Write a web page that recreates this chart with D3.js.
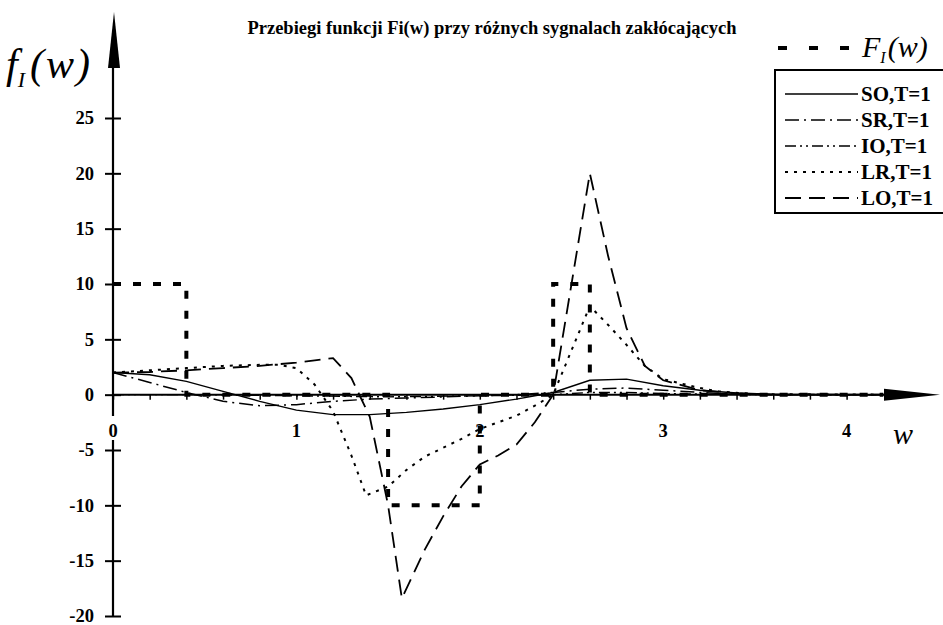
<!DOCTYPE html>
<html><head><meta charset="utf-8">
<script src="https://cdn.jsdelivr.net/npm/d3@7"></script>
<style>body{margin:0;background:#fff}svg{display:block}</style>
</head><body>
<script>
// ---- data ----
const title = "Przebiegi funkcji Fi(w) przy różnych sygnalach zakłócających";
const yTicks = [-20,-15,-10,-5,0,5,10,15,20,25];
const xTickLabels = [0,1,2,3,4];
const seriesNames = ["SO,T=1","SR,T=1","IO,T=1","LR,T=1","LO,T=1"];

const wFI = [0,0.4,0.4,1.5,1.5,2.0,2.0,2.4,2.4,2.6,2.6,4.2];
const vFI = [10,10,0,0,-10,-10,0,0,10,10,0,0];

const wSO = [0,0.2,0.4,0.6,0.8,1.0,1.2,1.4,1.6,1.8,2.0,2.2,2.4,2.6,2.8,3.0,3.2,3.4,3.6,4.0,4.2];
const vSO = [2,1.8,1.2,0.3,-0.6,-1.4,-1.8,-1.8,-1.6,-1.3,-0.9,-0.4,0.2,1.3,1.4,0.8,0.4,0.15,0.05,0,0];

const wSR = [0,0.2,0.4,0.6,0.8,1.0,1.2,1.4,1.6,1.8,2.0,2.2,2.4,2.6,2.8,3.0,3.2,3.4,3.6,4.2];
const vSR = [2,1.1,0.2,-0.6,-1.0,-0.9,-0.6,-0.4,-0.3,-0.2,-0.1,0,0.2,0.5,0.6,0.4,0.2,0.05,0,0];

const wIO = [0,0.5,1.0,1.5,2.0,2.4,2.6,2.8,3.0,3.5,4.2];
const vIO = [0,0,-0.1,-0.2,-0.1,0,0.2,0.2,0.1,0,0];

const wLR = [0,0.2,0.4,0.6,0.8,0.9,1.0,1.1,1.2,1.3,1.38,1.5,1.6,1.7,1.8,1.9,2.0,2.1,2.2,2.3,2.4,2.5,2.6,2.7,2.8,2.9,3.0,3.1,3.2,3.3,3.5,4.2];
const vLR = [2,2.2,2.4,2.6,2.7,2.7,2.4,0.9,-1.5,-5.5,-9.1,-8.3,-6.8,-5.6,-4.8,-4.0,-3.1,-2.5,-1.9,-1.0,0,4,8,6.3,4.5,2.6,1.4,1.0,0.6,0.3,0.05,0];

const wLO = [0,0.2,0.4,0.6,0.8,1.0,1.1,1.2,1.3,1.4,1.5,1.575,1.7,1.8,1.9,2.0,2.1,2.2,2.3,2.4,2.5,2.6,2.7,2.8,2.9,3.0,3.2,3.4,3.6,4.2];
const vLO = [2,2.05,2.2,2.4,2.6,2.9,3.1,3.3,1.5,-2,-10,-18.4,-14,-11,-8.3,-6.3,-5.5,-4.5,-2.5,0,10,20,12.5,6,2.6,1.3,0.4,0.1,0,0];

// ---- drawing ----
const W = 943, H = 625;
const svg = d3.select("body").append("svg").attr("width", W).attr("height", H);
const x = d3.scaleLinear().domain([0, 4.5]).range([113, 113 + 4.5 * 183.4]);
const y = d3.scaleLinear().domain([-20, 25]).range([616, 118]);
const serif = "'Liberation Serif','Times New Roman',serif";

// title
svg.append("text").attr("x", 492).attr("y", 34).attr("text-anchor", "middle")
  .attr("font-family", serif).attr("font-weight", "bold").attr("font-size", 18.5)
  .text(title);

// y axis
const yAxis = d3.axisLeft(y).tickValues(yTicks).tickSize(8).tickPadding(11)
  .tickFormat(d => String(d));
const gy = svg.append("g").attr("transform", `translate(${x(0)},0)`).call(yAxis);
gy.select(".domain").remove();
gy.selectAll(".tick line").attr("x1", -8).attr("x2", 8).attr("stroke", "#000").attr("stroke-width", 2);
gy.selectAll(".tick text").attr("font-family", serif).attr("font-weight", "bold").attr("font-size", 18.5).attr("fill", "#000");
svg.append("line").attr("x1", x(0)).attr("x2", x(0)).attr("y1", y(-20)).attr("y2", 40)
  .attr("stroke", "#000").attr("stroke-width", 2.2);
svg.append("path").attr("d", `M${x(0)+1},12 L${x(0)-5},68 L${x(0)+7},68 Z`).attr("fill", "#000");

// x axis
const xAxis = d3.axisBottom(x).tickValues(d3.range(0, 21).map(i => i * 0.2)).tickSize(5)
  .tickFormat(() => "");
const gx = svg.append("g").attr("transform", `translate(0,${y(0)})`).call(xAxis);
gx.select(".domain").remove();
gx.selectAll(".tick line").attr("stroke", "#000").attr("stroke-width", 1.5);
svg.append("line").attr("x1", x(0)).attr("x2", 890).attr("y1", y(0)).attr("y2", y(0))
  .attr("stroke", "#000").attr("stroke-width", 2);
svg.append("path").attr("d", `M940,${y(0)} L884,${y(0)-6} L884,${y(0)+6} Z`).attr("fill", "#000");
const xl = svg.append("g");
xTickLabels.forEach(v => {
  if (v === 0) {
    xl.append("rect").attr("x", x(v) - 8).attr("y", 416).attr("width", 16).attr("height", 24).attr("fill", "#fff");
  }
  xl.append("text").attr("x", x(v)).attr("y", 437).attr("text-anchor", "middle")
    .attr("font-family", serif).attr("font-weight", "bold").attr("font-size", 18.5).text(v);
});

// axis titles
const yt = svg.append("text").attr("x", 6).attr("y", 78).attr("font-family", serif)
  .attr("font-style", "italic").attr("font-size", 42);
yt.append("tspan").text("f");
yt.append("tspan").attr("font-size", 22).attr("dy", 9).attr("dx", 0).text("I");
yt.append("tspan").attr("dy", -9).attr("dx", 5).attr("letter-spacing", 2).text("(w)");
svg.append("text").attr("x", 893).attr("y", 444).attr("font-family", serif)
  .attr("font-style", "italic").attr("font-size", 30).text("w");

// series
const styles = [
  {w: wSO, v: vSO, dash: null, sw: 1.4},
  {w: wSR, v: vSR, dash: "14,5,2,5", sw: 1.5},
  {w: wIO, v: vIO, dash: "11,4,2,4,2,4", sw: 1.4},
  {w: wLR, v: vLR, dash: "3,6", sw: 2},
  {w: wLO, v: vLO, dash: "16,8", sw: 1.8}
];
const line = d3.line().x(d => x(d[0])).y(d => y(d[1]));
styles.forEach(s => {
  svg.append("path").datum(s.w.map((w, i) => [w, s.v[i]])).attr("d", line)
    .attr("fill", "none").attr("stroke", "#000").attr("stroke-width", s.sw)
    .attr("stroke-dasharray", s.dash);
});
svg.append("path").datum(wFI.map((w, i) => [w, vFI[i]])).attr("d", line)
  .attr("fill", "none").attr("stroke", "#000").attr("stroke-width", 4)
  .attr("stroke-dasharray", "8,12");

// legend F_I(w)
svg.append("line").attr("x1", 778).attr("x2", 852).attr("y1", 48).attr("y2", 48)
  .attr("stroke", "#000").attr("stroke-width", 4).attr("stroke-dasharray", "9,22");
const ft = svg.append("text").attr("x", 862).attr("y", 57).attr("font-family", serif)
  .attr("font-style", "italic").attr("font-size", 30);
ft.append("tspan").text("F");
ft.append("tspan").attr("font-size", 16).attr("dy", 6).text("I");
ft.append("tspan").attr("dy", -6).attr("dx", 2).text("(w)");

// legend box
svg.append("rect").attr("x", 775).attr("y", 70).attr("width", 180).attr("height", 143)
  .attr("fill", "none").attr("stroke", "#000").attr("stroke-width", 2);
seriesNames.forEach((name, i) => {
  const yy = 94 + i * 26;
  svg.append("line").attr("x1", 785).attr("x2", 858).attr("y1", yy).attr("y2", yy)
    .attr("stroke", "#000").attr("stroke-width", styles[i].sw).attr("stroke-dasharray", styles[i].dash);
  svg.append("text").attr("x", 861).attr("y", yy + 7).attr("font-family", serif)
    .attr("font-weight", "bold").attr("font-size", 21).text(name);
});
</script>
</body></html>
